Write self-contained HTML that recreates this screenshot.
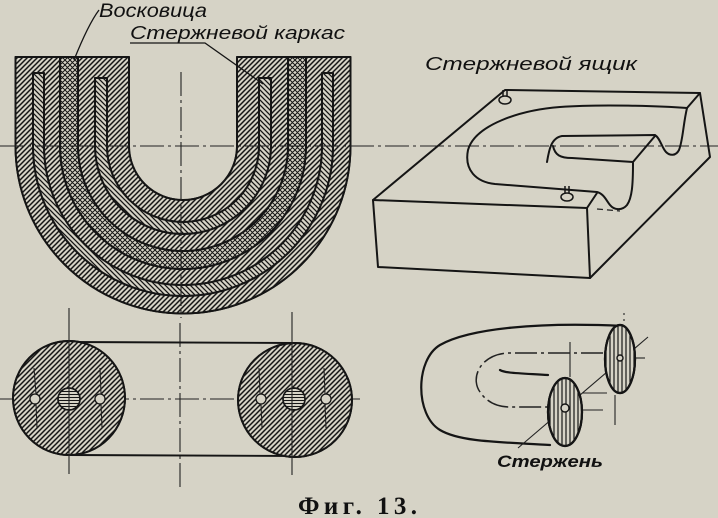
<!DOCTYPE html>
<html><head><meta charset="utf-8"><style>
html,body{margin:0;padding:0;background:#d6d3c6;}
svg{display:block;}
</style></head><body>
<svg width="718" height="518" viewBox="0 0 718 518" xmlns="http://www.w3.org/2000/svg">
<defs>
<pattern id="h1" patternUnits="userSpaceOnUse" width="5" height="5"><path d="M-1,1 l2,-2 M0,5 l5,-5 M4,6 l2,-2" stroke="#151515" stroke-width="1.5"/></pattern>
<pattern id="h2" patternUnits="userSpaceOnUse" width="5" height="5"><path d="M-1,4 l2,2 M0,0 l5,5 M4,-1 l2,2" stroke="#151515" stroke-width="1.3"/></pattern>
<pattern id="hx" patternUnits="userSpaceOnUse" width="5" height="5"><path d="M-1,1 l2,-2 M0,5 l5,-5 M4,6 l2,-2 M-1,4 l2,2 M0,0 l5,5 M4,-1 l2,2" stroke="#151515" stroke-width="1"/></pattern>
<pattern id="hv" patternUnits="userSpaceOnUse" width="4" height="4"><path d="M2,0 v4" stroke="#151515" stroke-width="1.2"/></pattern>
<pattern id="hh" patternUnits="userSpaceOnUse" width="3" height="3"><path d="M0,1.5 h3" stroke="#151515" stroke-width="1"/></pattern>
</defs>
<rect width="718" height="518" fill="#d6d3c6"/>

<!-- U section -->
<g stroke="#151515" stroke-width="1.9" stroke-linejoin="round">
<path d="M15.5 57 L15.5 146 A167.5 167.5 0 0 0 350.5 146 L350.5 57 L237 57 L237 146 A54 54 0 0 1 129 146 L129 57 Z" fill="#d6d3c6"/>
<path d="M15.5 57 L15.5 146 A167.5 167.5 0 0 0 350.5 146 L350.5 57 L237 57 L237 146 A54 54 0 0 1 129 146 L129 57 Z" fill="url(#h1)"/>
<path d="M33 73 L33 146 A150 150 0 0 0 333 146 L333 73 L322 73 L322 146 A139 139 0 0 1 44 146 L44 73 Z" fill="#d6d3c6"/>
<path d="M33 73 L33 146 A150 150 0 0 0 333 146 L333 73 L322 73 L322 146 A139 139 0 0 1 44 146 L44 73 Z" fill="url(#h2)"/>
<path d="M60 57 L60 146 A123 123 0 0 0 306 146 L306 57 L288 57 L288 146 A105 105 0 0 1 78 146 L78 57 Z" fill="#d6d3c6"/>
<path d="M60 57 L60 146 A123 123 0 0 0 306 146 L306 57 L288 57 L288 146 A105 105 0 0 1 78 146 L78 57 Z" fill="url(#hx)"/>
<path d="M95 78 L95 146 A88 88 0 0 0 271 146 L271 78 L259 78 L259 146 A76 76 0 0 1 107 146 L107 78 Z" fill="#d6d3c6"/>
<path d="M95 78 L95 146 A88 88 0 0 0 271 146 L271 78 L259 78 L259 146 A76 76 0 0 1 107 146 L107 78 Z" fill="url(#h2)"/>
</g>

<!-- center lines -->
<g stroke="#222" stroke-width="1.1" fill="none" stroke-dasharray="24 4 3 4">
<path d="M0 146 L718 146"/>
<path d="M181 72 L181 318"/>
<path d="M0 399 L360 399"/>
<path d="M180 323 L180 488"/>
</g>

<!-- labels top-left -->
<g stroke="#151515" stroke-width="1.3" fill="none">
<path d="M99 10 C90 22 82 40 74 60"/>
<path d="M130 43 L205 43 L263 84"/>
</g>
<g font-family="'Liberation Sans', sans-serif" font-style="italic" fill="#111">
<text x="99" y="17" font-size="19" textLength="108" lengthAdjust="spacingAndGlyphs">Восковица</text>
<text x="130" y="39" font-size="18" textLength="215" lengthAdjust="spacingAndGlyphs">Стержневой  каркас</text>
<text x="425" y="70" font-size="18" textLength="212" lengthAdjust="spacingAndGlyphs">Стержневой  ящик</text>
<text x="497" y="467" font-size="17" font-weight="bold" textLength="106" lengthAdjust="spacingAndGlyphs">Стержень</text>
</g>

<!-- bottom view -->
<g stroke="#151515" stroke-width="1.9">
<line x1="69" y1="342" x2="295" y2="343" />
<line x1="69" y1="455" x2="295" y2="456" />
<ellipse cx="69" cy="398" rx="56" ry="57" fill="#d6d3c6"/>
<ellipse cx="69" cy="398" rx="56" ry="57" fill="url(#h1)"/>
<ellipse cx="295" cy="400" rx="57" ry="57" fill="#d6d3c6"/>
<ellipse cx="295" cy="400" rx="57" ry="57" fill="url(#h1)"/>
<circle cx="69" cy="399" r="11" fill="#d6d3c6" stroke-width="1.5"/>
<circle cx="69" cy="399" r="11" fill="url(#hh)" stroke-width="1.5"/>
<circle cx="294" cy="399" r="11" fill="#d6d3c6" stroke-width="1.5"/>
<circle cx="294" cy="399" r="11" fill="url(#hh)" stroke-width="1.5"/>
<circle cx="35" cy="399" r="5" fill="#d6d3c6" stroke-width="1.3"/>
<circle cx="100" cy="399" r="5" fill="#d6d3c6" stroke-width="1.3"/>
<circle cx="261" cy="399" r="5" fill="#d6d3c6" stroke-width="1.3"/>
<circle cx="326" cy="399" r="5" fill="#d6d3c6" stroke-width="1.3"/>
</g>
<g stroke="#222" stroke-width="1.1" fill="none">
<path d="M69 308 L69 474"/>
<path d="M292 312 L292 475"/>
<path d="M34 368 L36 394 M36 404 L37 428"/>
<path d="M100 368 L101 394 M101 404 L102 428"/>
<path d="M259 368 L260 394 M261 404 L262 428"/>
<path d="M324 368 L325 394 M325 404 L326 428"/>
</g>

<!-- core box -->
<g stroke="#151515" stroke-width="2" fill="none" stroke-linejoin="round" stroke-linecap="round">
<path d="M373 200 L505 90 L700 93 L710 157 L590 278 L378 267 Z"/>
<path d="M373 200 L587 208 L590 278"/>
<path d="M700 93 L687 108"/>
<path d="M587 208 L597 193"/>
<path d="M687 108 C660 106 600 104 560 107 C520 110 475 125 468 150 C464 170 476 182 495 184 L597 192 C604 194 606 200 610 205 C614 210 622 211 627 205 C632 198 633 185 633 163"/>
<path d="M553 146 C555 155 560 158 572 158 L633 162 L655 136"/>
<path d="M547 162 C549 150 551 138 562 136 L655 135 C660 138 662 148 666 152 C670 156 676 156 679 150 C683 140 683 125 687 108"/>
</g>
<path d="M597 209 L620 211" stroke="#222" stroke-width="1.3" stroke-dasharray="6 4"/>
<g stroke="#151515" stroke-width="1.5" fill="#d6d3c6">
<path d="M503 90 L503 98 M507 90 L507 98" />
<ellipse cx="505" cy="100" rx="6" ry="4"/>
<path d="M565 186 L565 194 M569 186 L569 194" />
<ellipse cx="567" cy="197" rx="6" ry="4"/>
</g>

<!-- core -->
<g stroke="#151515" stroke-width="2.2" fill="none" stroke-linecap="round">
<path d="M623 326 C540 322 470 328 440 345 C415 360 415 415 440 430 C460 442 500 442 550 445"/>
<path d="M500 370 C505 373 515 373 548 375"/>
</g>
<path d="M603 353 L507 353 C480 355 470 378 480 392 C488 404 500 407 510 407 L550 407" stroke="#222" stroke-width="1.5" fill="none" stroke-dasharray="22 4 3 4"/>
<g stroke="#222" stroke-width="1.1" fill="none">
<path d="M518 448 L648 337"/>
<path d="M570 342 L570 377"/>
<path d="M615 395 L615 425"/>
<path d="M624 313 L624 325" stroke-dasharray="2 4"/>
<path d="M582 393 L607 393"/>
<path d="M580 410 L603 410"/>
<path d="M633 358 L645 358"/>
</g>
<g stroke="#151515" stroke-width="2.2">
<ellipse cx="620" cy="359" rx="15" ry="34" fill="#d6d3c6"/>
<ellipse cx="620" cy="359" rx="15" ry="34" fill="url(#hv)"/>
<ellipse cx="565" cy="412" rx="17" ry="34" fill="#d6d3c6"/>
<ellipse cx="565" cy="412" rx="17" ry="34" fill="url(#hv)"/>
<circle cx="620" cy="358" r="3" fill="#d6d3c6" stroke-width="1.4"/>
<circle cx="565" cy="408" r="4" fill="#d6d3c6" stroke-width="1.4"/>
</g>

<text x="298" y="514" font-family="'Liberation Serif', serif" font-size="25" font-weight="bold" fill="#111" textLength="119" lengthAdjust="spacing">Фиг. 13.</text>
</svg>
</body></html>
